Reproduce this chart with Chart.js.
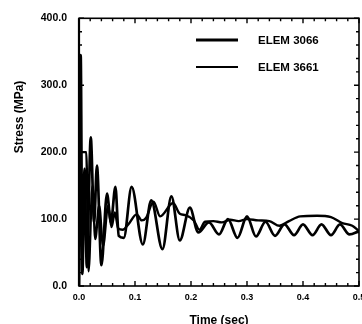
<!DOCTYPE html>
<html>
<head>
<meta charset="utf-8">
<script src="https://cdn.jsdelivr.net/npm/chart.js@4/dist/chart.umd.min.js"></script>
<style>
  body { margin: 0; background: #fff; }
  #wrap { width: 362px; height: 324px; }
</style>
</head>
<body>
<div id="wrap"><canvas id="stress"></canvas></div>
<script>
const FONT = "'Liberation Sans', Arial, sans-serif";

const seriesNames = ['ELEM 3066', 'ELEM 3661'];
const xTitle = 'Time (sec)';
const yTitle = 'Stress (MPa)';

// ELEM 3066 - the strongly oscillating one
const timeA = [0, 0.003, 0.006, 0.010, 0.014, 0.021, 0.027, 0.032, 0.040, 0.050,
  0.057, 0.065, 0.071, 0.080, 0.094, 0.114, 0.129, 0.149, 0.165, 0.180,
  0.198, 0.213, 0.232, 0.250, 0.266, 0.283, 0.300, 0.316, 0.333, 0.350,
  0.367, 0.384, 0.400, 0.417, 0.433, 0.450, 0.466, 0.483, 0.500];
const stressA = [0, 345, 18, 175, 28, 222, 95, 180, 31, 138,
  95, 148, 75, 72, 148, 62, 128, 55, 134, 68,
  117, 80, 95, 77, 100, 72, 104, 74, 96, 75,
  92, 76, 92, 76, 92, 76, 92, 77, 82];

// ELEM 3661 - smoother, settles near 100
const timeB = [0, 0.001, 0.013, 0.017, 0.024, 0.029, 0.036, 0.043, 0.052, 0.058,
  0.064, 0.070, 0.078, 0.088, 0.103, 0.112, 0.120, 0.133, 0.145, 0.168,
  0.180, 0.190, 0.205, 0.215, 0.225, 0.240, 0.255, 0.270, 0.285, 0.300,
  0.320, 0.340, 0.358, 0.375, 0.395, 0.425, 0.450, 0.470, 0.488, 0.500];
const stressB = [0, 200, 200, 22, 150, 70, 120, 60, 120, 88,
  110, 86, 84, 92, 107, 98, 102, 126, 104, 124,
  108, 106, 98, 84, 96, 97, 95, 99, 97, 100,
  98, 97, 90, 97, 104, 105, 103, 94, 90, 82];

const toPoints = (ts, vs) => ts.map((t, i) => ({ x: t, y: vs[i] }));

// frame, inward ticks on all four sides, legend and y title
const framePlugin = {
  id: 'framePlugin',
  afterDatasetsDraw(chart) {
    const { ctx, chartArea: a, scales: { x, y } } = chart;
    ctx.save();
    ctx.strokeStyle = '#000';
    ctx.lineWidth = 1.6;
    ctx.strokeRect(a.left, a.top, a.right - a.left, a.bottom - a.top);
    ctx.lineWidth = 2.2;
    ctx.beginPath();
    ctx.moveTo(a.left, a.top);
    ctx.lineTo(a.left, a.bottom);
    ctx.stroke();

    ctx.lineWidth = 1.4;
    ctx.beginPath();
    for (let i = 0; i <= 25; i++) {
      const px = x.getPixelForValue(i * 0.02);
      const len = i % 5 === 0 ? 5 : 3;
      ctx.moveTo(px, a.bottom); ctx.lineTo(px, a.bottom - len);
      ctx.moveTo(px, a.top); ctx.lineTo(px, a.top + len);
    }
    for (let i = 0; i <= 20; i++) {
      const py = y.getPixelForValue(i * 20);
      const len = i % 5 === 0 ? 5 : 3;
      ctx.moveTo(a.left, py); ctx.lineTo(a.left + len, py);
      ctx.moveTo(a.right, py); ctx.lineTo(a.right - len, py);
    }
    ctx.stroke();

    // legend
    const rows = [40, 67];
    ctx.font = 'bold 11.5px ' + FONT;
    ctx.fillStyle = '#000';
    ctx.textBaseline = 'middle';
    chart.data.datasets.forEach((ds, i) => {
      ctx.lineWidth = i === 0 ? 2.8 : 2;
      ctx.beginPath();
      ctx.moveTo(196, rows[i]);
      ctx.lineTo(238, rows[i]);
      ctx.stroke();
      ctx.fillText(ds.label, 258, rows[i] + 1);
    });

    // y title
    ctx.translate(20, 117);
    ctx.rotate(-Math.PI / 2);
    ctx.textAlign = 'center';
    ctx.font = 'bold 12px ' + FONT;
    ctx.fillText(yTitle, 0, 0);
    ctx.restore();
  }
};

new Chart(document.getElementById('stress'), {
  type: 'line',
  data: {
    datasets: [
      {
        label: seriesNames[0],
        data: toPoints(timeA, stressA),
        borderColor: '#000',
        borderWidth: 2.7,
        pointRadius: 0,
        cubicInterpolationMode: 'monotone'
      },
      {
        label: seriesNames[1],
        data: toPoints(timeB, stressB),
        borderColor: '#000',
        borderWidth: 2.4,
        pointRadius: 0,
        cubicInterpolationMode: 'monotone'
      }
    ]
  },
  options: {
    responsive: true,
    maintainAspectRatio: false,
    animation: false,
    layout: { padding: { top: 14, right: 3, left: 0, bottom: 0 } },
    plugins: {
      legend: { display: false },
      tooltip: { enabled: false }
    },
    scales: {
      x: {
        type: 'linear',
        min: 0,
        max: 0.5,
        grid: { display: false, drawTicks: false },
        border: { display: false },
        ticks: {
          stepSize: 0.1,
          padding: 6,
          color: '#000',
          font: { family: FONT, size: 9, weight: 'bold' },
          callback: v => v.toFixed(1)
        },
        title: {
          display: true,
          text: xTitle,
          color: '#000',
          padding: { top: 0, bottom: -3 },
          font: { family: FONT, size: 12, weight: 'bold', lineHeight: 1 }
        },
        afterFit(scale) {
          scale.height = 38;
          scale.paddingLeft = 0;
          scale.paddingRight = 0;
        }
      },
      y: {
        min: 0,
        max: 400,
        grid: { display: false, drawTicks: false },
        border: { display: false },
        ticks: {
          stepSize: 100,
          padding: 12,
          color: '#000',
          font: { family: FONT, size: 10.5, weight: 'bold' },
          callback: v => v.toFixed(1)
        },
        afterFit(scale) {
          scale.width = 79;
        }
      }
    }
  },
  plugins: [framePlugin]
});
</script>
</body>
</html>
